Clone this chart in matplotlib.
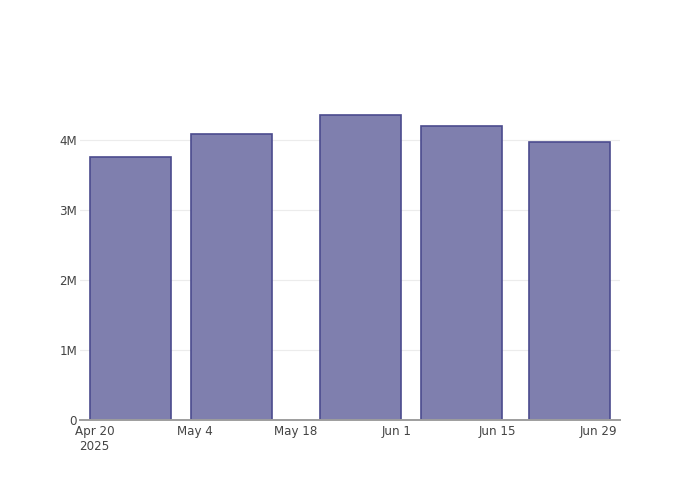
import numpy as np
import pandas as pd
import matplotlib
matplotlib.use("Agg")
from matplotlib import pyplot as plt
from matplotlib.ticker import FuncFormatter

# data
dates = pd.to_datetime(["2025-04-25", "2025-05-09", "2025-05-27", "2025-06-10", "2025-06-25"])
values = [3.76e6, 4.09e6, 4.35e6, 4.20e6, 3.97e6]
tick_dates = pd.to_datetime(["2025-04-20", "2025-05-04", "2025-05-18",
                             "2025-06-01", "2025-06-15", "2025-06-29"])
tick_labels = ["Apr 20\n2025", "May 4", "May 18", "Jun 1", "Jun 15", "Jun 29"]

fig = plt.figure(figsize=(7, 5), dpi=100)
ax = fig.add_axes([80/700, 80/500, 540/700, 320/500])

ax.bar(dates, values, width=11.2, color="#7f7fae", edgecolor="#4b4b8e",
       linewidth=1.2, zorder=3)

ax.set_xlim(pd.Timestamp("2025-04-18"), pd.Timestamp("2025-07-02"))
ax.set_ylim(0, 4.571e6)

ax.set_xticks(tick_dates)
ax.set_xticklabels(tick_labels)
ax.set_yticks([0, 1e6, 2e6, 3e6, 4e6])
ax.yaxis.set_major_formatter(FuncFormatter(lambda v, p: "0" if v == 0 else f"{v/1e6:.0f}M"))

ax.tick_params(axis="both", length=0, labelsize=8.6, labelcolor="#444444")
ax.tick_params(axis="x", pad=3.5)
ax.tick_params(axis="y", pad=2)

ax.grid(axis="y", color="#ececec", linewidth=0.8, zorder=0)
for s in ["top", "right", "left"]:
    ax.spines[s].set_visible(False)
ax.spines["bottom"].set_color("#9e9e9e")
ax.spines["bottom"].set_linewidth(1.4)
ax.spines["bottom"].set_zorder(4)

fig.savefig("out.png", dpi=100)
